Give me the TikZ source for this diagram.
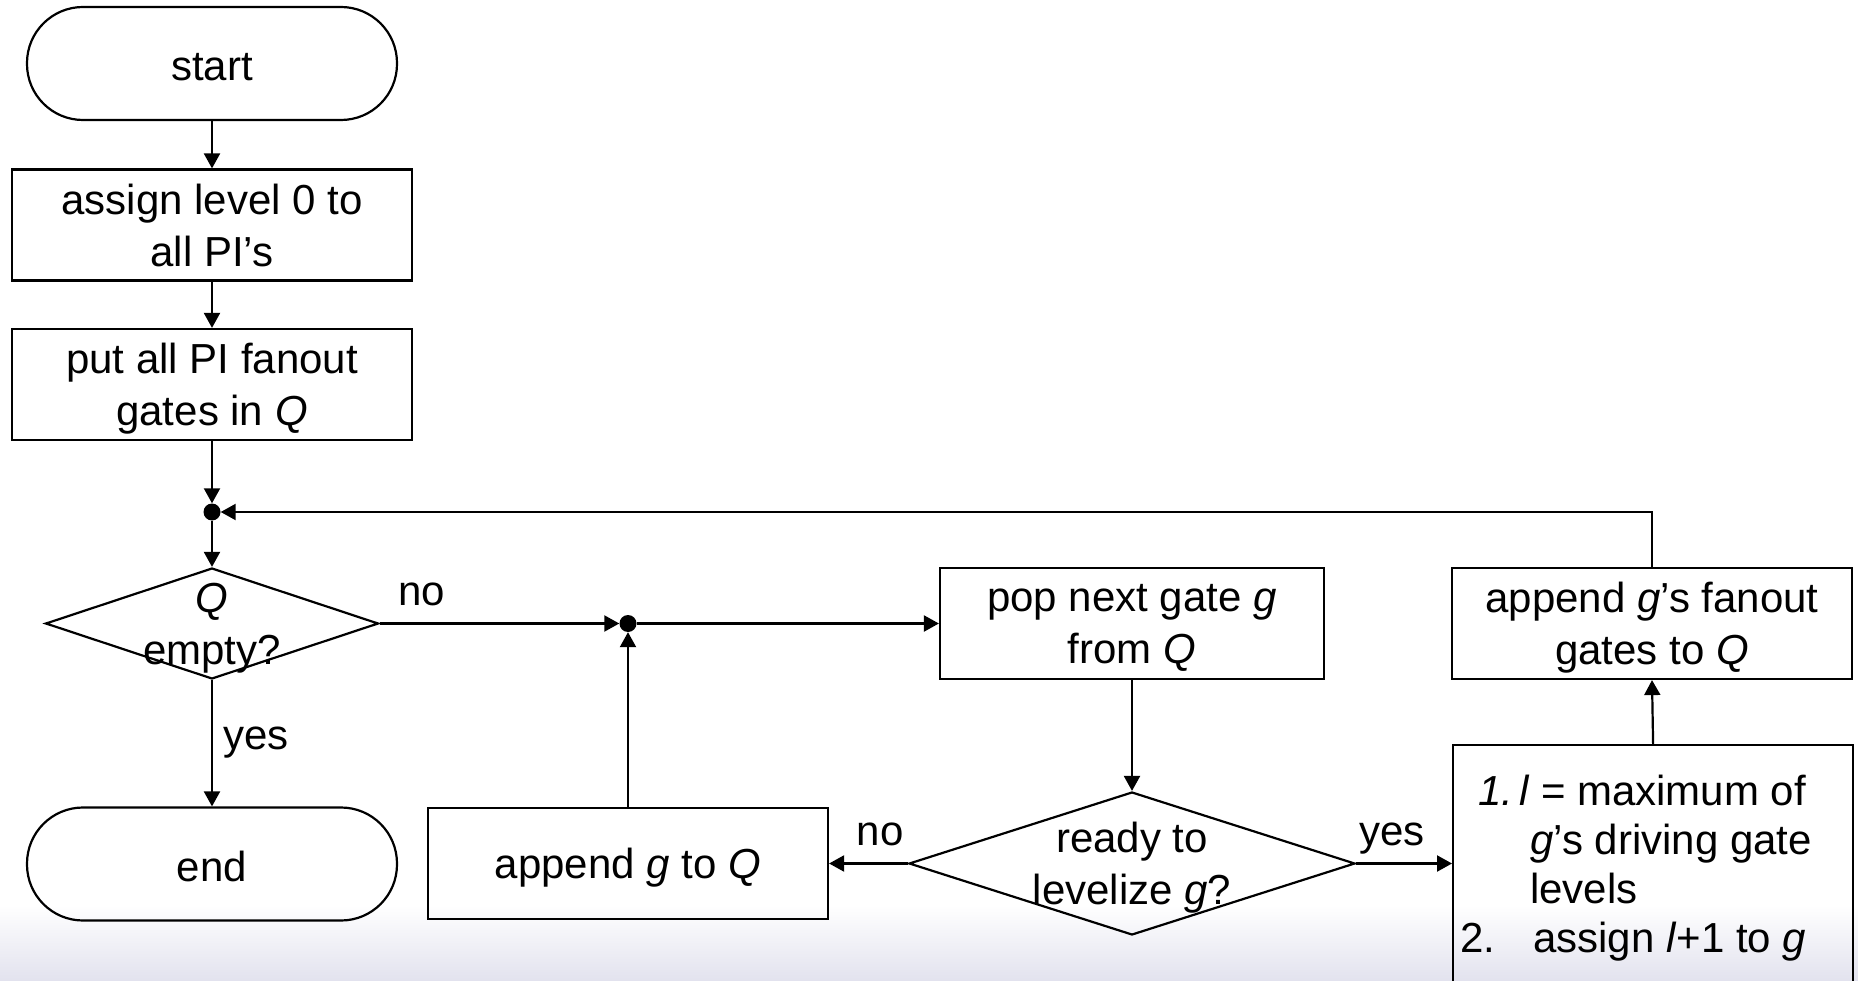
\documentclass[tikz,border=0pt]{standalone}
\usepackage{fontspec}
\setmainfont{Liberation Sans}
\usetikzlibrary{arrows.meta,shapes.geometric}
\definecolor{haze}{RGB}{226,226,238}

\begin{document}
\begin{tikzpicture}[x=1pt,y=-1pt,
  every node/.style={font=\fontsize{42}{52}\selectfont, inner sep=0pt},
  flow/.style={line width=2.2pt, draw=black},
  proc/.style={flow, rectangle, minimum width=400pt, minimum height=111pt},
  term/.style={flow, rectangle, rounded corners=56pt, minimum width=370pt, minimum height=113pt,
    text height=34pt, text depth=0pt},
  decide/.style={flow, diamond},
  txt/.style={align=center, text depth=0pt},
  junction/.style={circle, fill=black, minimum size=17pt},
  arr/.style={line width=2.2pt, -{Triangle[length=15pt,width=16pt]}}
]
\useasboundingbox (0,0) rectangle (1858,981);
\clip (0,0) rectangle (1858,981);

% page background with the soft band along the bottom
\fill[white] (0,0) rectangle (1858,981);
\fill[top color=white, bottom color=haze] (0,905) rectangle (1858,981);

% main column
\node[term] (start) at (212,63.5) {start};
\node[proc, txt] (lvl0) at (212,225) {assign level 0 to\\all PI’s};
\node[proc, txt] (init) at (212,384.5) {put all PI fanout\\gates in \textit{Q}};
\node[junction] (j1) at (212,512) {};
\node[decide, minimum width=333pt, minimum height=111pt] (empty) at (212,623.5) {};
\node[txt] (emptyt) at (empty.center) {\textit{Q}\\empty?};
\node[term] (end) at (212,864) {end};

% gate processing loop
\node[junction] (j2) at (628,623.5) {};
\node[proc, txt, minimum width=384pt] (pop) at (1132,623.5) {pop next gate \textit{g}\\from \textit{Q}};
\node[decide, minimum width=446pt, minimum height=143pt] (ready) at (1132,863.5) {};
\node[txt] (readyt) at (ready.center) {ready to\\levelize \textit{g}?};
\node[proc, txt] (requeue) at (628,863.5) {append \textit{g} to \textit{Q}};
\node[proc, txt] (fanout) at (1652,623.5) {append \textit{g}’s fanout\\gates to \textit{Q}};
\node[flow, rectangle, anchor=north west, minimum width=400pt, minimum height=300pt] (assign) at (1452,744) {};

% numbered steps inside the level assignment box
\node[anchor=base west] (s1n) at (1478,805) {\textit{1.}};
\node[anchor=base west] (s1a) at (1519,805) {\textit{l} = maximum of};
\node[anchor=base west] (s1b) at (1530,854.5) {\textit{g}’s driving gate};
\node[anchor=base west] (s1c) at (1530,903.5) {levels};
\node[anchor=base west] (s2n) at (1460,952.5) {2.};
\node[anchor=base west] (s2a) at (1533,952.5) {assign \textit{l}+1 to \textit{g}};

% connectors
\draw[arr] (start) -- (lvl0);
\draw[arr] (lvl0) -- (init);
\draw[arr] (init) -- (j1);
\draw[arr] (j1) -- (empty);
\draw[arr] (empty) -- (end);
\draw[arr] (empty.east) -- (j2);
\draw[arr] (j2) -- (pop.west);
\draw[arr] (requeue.north) -- (j2);
\draw[arr] (pop) -- (ready);
\draw[arr] (ready.west) -- (requeue.east);
\draw[arr] (ready.east) -- (ready.east -| assign.west);
\draw[arr] (assign.north) -- (fanout.south);
\draw[arr] (fanout.north) |- (j1);

% branch labels
\node (noA) at (422,594) {no};
\node (yesA) at (256,743) {yes};
\node (noB) at (880,834) {no};
\node (yesB) at (1392,839) {yes};
\end{tikzpicture}
\end{document}
